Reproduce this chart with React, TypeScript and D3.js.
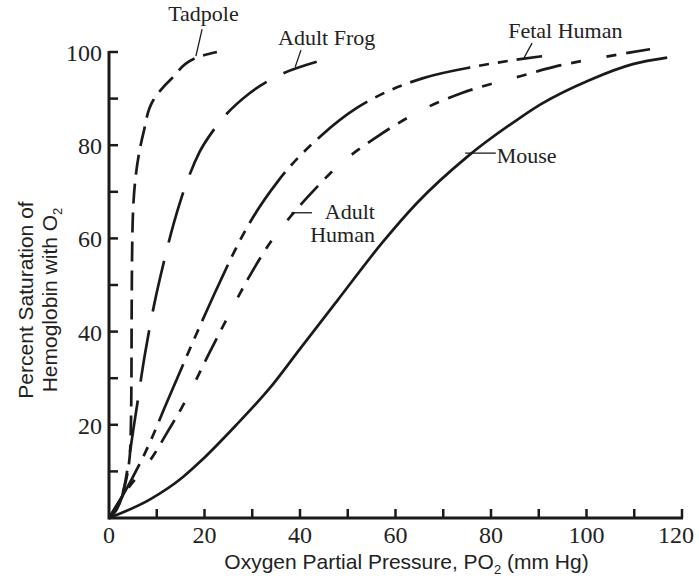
import * as d3 from 'd3';
import React from 'react';

// oxygen partial pressure (mm Hg), percent saturation
const tadpole = [[0, 0], [2.6, 4.5], [4.5, 16], [4.7, 30], [4.75, 45], [4.9, 61], [5.5, 72.5], [7.2, 82.6], [9.3, 89.7], [13.4, 94.6], [18.4, 98.8], [22.6, 100]];
const adultFrog = [[0, 0], [2.7, 4.5], [5.4, 21], [7.5, 35], [9.5, 46], [11.5, 55], [13.5, 63], [15.2, 68.8], [19, 78.6], [22, 83.4], [29.5, 91.2], [33.7, 94], [43.5, 97.9]];
const fetalHuman = [[0, 0], [2.7, 4.5], [8.6, 16.3], [11.7, 23.8], [18.4, 39.7], [23.2, 50.6], [27.4, 59.5], [30.2, 64.6], [35.4, 72.3], [44.6, 82.2], [51.9, 88], [56.8, 90.8], [65.8, 94.4], [77.3, 97], [90.7, 99.1]];
const adultHuman = [[0, 0], [2.7, 4.5], [9.6, 13.9], [12.1, 18.2], [15.3, 23.8], [17.4, 27.9], [20.7, 34.8], [24.3, 42], [26.4, 46.2], [29.1, 51.3], [34.1, 59.6], [37.3, 63.8], [41, 68.2], [44, 71.5], [48, 75.6], [51.5, 78.5], [56.1, 81.8], [59.9, 84.3], [66.8, 88.2], [73.9, 91.2], [86.1, 94.8], [93.2, 96.8], [106.4, 99.4], [113.3, 100.6]];
const mouse = [[0, 0], [8.6, 4], [15.5, 8.8], [19, 12], [26.5, 19.8], [33.7, 27.9], [40, 36.3], [47.7, 46.5], [57.4, 59.3], [64.5, 67.6], [75, 77.5], [85.4, 85.4], [90.3, 88.7], [100.7, 94], [109.7, 97.4], [116.9, 98.8]];

const seriesNames = ['Tadpole', 'Adult Frog', 'Fetal Human', 'Adult Human', 'Mouse'];
const seriesData = [tadpole, adultFrog, fetalHuman, adultHuman, mouse];
const dashes = ['20,9', '52,19', '62,9,10,9,10,9', '26,10,10,26,10,10', null];

const xTicks = d3.range(10, 121, 10);
const yTicks = d3.range(10, 101, 10);
const xLabels = [0, 20, 40, 60, 80, 100, 120];
const yLabels = [20, 40, 60, 80, 100];

// label position (data units), alignment, and leader line (data units)
const labelLines = [['Tadpole'], ['Adult Frog'], ['Fetal Human'], ['Adult', 'Human'], ['Mouse']];
const labelAt = [[12.4, 106.6], [35.4, 101.5], [83.6, 103.1], [55.7, 64.2], [81.2, 76.2]];
const labelAnchor = ['start', 'start', 'start', 'end', 'start'];
const leaders = [
    [[19.5, 104.9], [18.2, 99.1]],
    [[40.2, 100.4], [39, 96.8]],
    [[88.6, 101.9], [86.9, 98.7]],
    [[42.5, 65.5], [38.2, 65.5]],
    [[74.6, 78.3], [81, 78.3]],
];

const W = 699, H = 581;
const x = d3.scaleLinear().domain([0, 120]).range([109, 682]);
const y = d3.scaleLinear().domain([0, 100]).range([518, 52]);

const lineX = d3.line<number[]>().x(d => x(d[0])).y(d => y(d[1])).curve(d3.curveMonotoneX);
const lineY = d3.line<number[]>().x(d => x(d[0])).y(d => y(d[1])).curve(d3.curveMonotoneY);

const serif = '"Liberation Serif", "DejaVu Serif", serif';
const sans = '"Liberation Sans", Arial, sans-serif';

export default function App() {
    return (
        <svg width={W} height={H} style={{ position: 'absolute', left: 0, top: 0, background: '#fff' }}>
            {/* curves */}
            {seriesData.map((s, i) => (
                <path key={seriesNames[i]} d={(i === 0 ? lineY(s) : lineX(s)) || ''} fill="none" stroke="#1a1a1a"
                    strokeWidth={2.7} strokeDasharray={dashes[i] || undefined} strokeLinejoin="round" />
            ))}

            {/* axes */}
            <g stroke="#1a1a1a" strokeWidth={2.5}>
                {xTicks.map(t => <line key={'xt' + t} x1={x(t)} x2={x(t)} y1={y(0)} y2={y(0) - 9} />)}
                {yTicks.map(t => <line key={'yt' + t} x1={x(0)} x2={x(0) + 9} y1={y(t)} y2={y(t)} />)}
                <line x1={x(0)} x2={x(120) + 1} y1={y(0)} y2={y(0)} strokeWidth={3} />
                <line x1={x(0)} x2={x(0)} y1={y(0) + 1.5} y2={y(100) - 1} strokeWidth={3} />
            </g>
            <g fontFamily={serif} fontSize={24} fill="#222">
                {xLabels.map((t, i) => {
                    const last = i === xLabels.length - 1;
                    return <text key={'xl' + t} x={last ? x(t) + 12 : x(t)} y={543} textAnchor={last ? 'end' : 'middle'}>{t}</text>;
                })}
                {yLabels.map(t => <text key={'yl' + t} x={102} y={y(t) + 9} textAnchor="end">{t}</text>)}
            </g>

            {/* axis titles */}
            <text x={x(0) + (x(120) - x(0)) / 2 + 11} y={569} textAnchor="middle" fontFamily={sans} fontSize={21} fill="#222">
                Oxygen Partial Pressure, PO<tspan fontSize={13} dy={5}>2</tspan><tspan dy={-5}> (mm Hg)</tspan>
            </text>
            <g fontFamily={sans} fontSize={21} fill="#222">
                <text transform="translate(33,300) rotate(-90)" textAnchor="middle">Percent Saturation of</text>
                <text transform="translate(57,300) rotate(-90)" textAnchor="middle">
                    Hemoglobin with O<tspan fontSize={13} dy={5}>2</tspan>
                </text>
            </g>

            {/* curve labels */}
            <g fontFamily={serif} fontSize={22} fill="#222">
                {labelLines.map((ls, i) => (
                    <text key={'lab' + i} x={x(labelAt[i][0])} y={y(labelAt[i][1])} textAnchor={labelAnchor[i]}>
                        {ls.map((l, j) => <tspan key={j} x={x(labelAt[i][0])} dy={j === 0 ? 0 : 23}>{l}</tspan>)}
                    </text>
                ))}
            </g>
            <g stroke="#1a1a1a" strokeWidth={1.3}>
                {leaders.map((l, i) => (
                    <line key={'ld' + i} x1={x(l[0][0])} y1={y(l[0][1])} x2={x(l[1][0])} y2={y(l[1][1])} />
                ))}
            </g>
        </svg>
    );
}
